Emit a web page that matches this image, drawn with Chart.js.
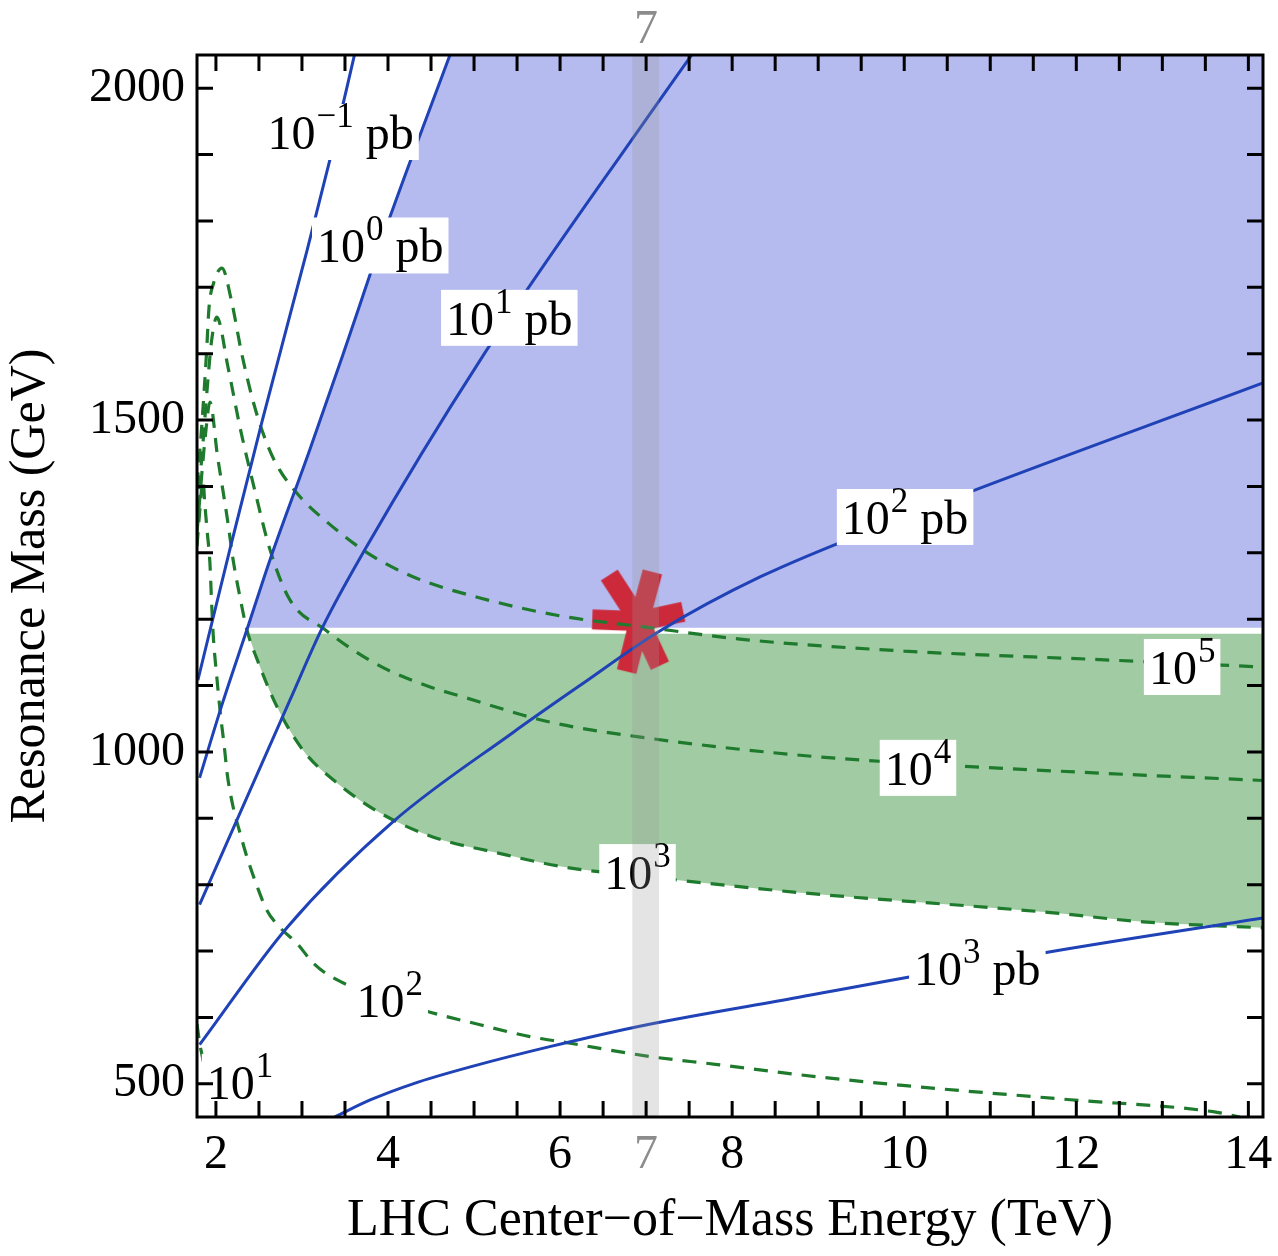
<!DOCTYPE html>
<html>
<head>
<meta charset="utf-8">
<title>Resonance mass reach vs LHC energy</title>
<script src="https://cdn.jsdelivr.net/npm/chart.js@4.4.1/dist/chart.umd.min.js"></script>
<style>
  html, body { margin: 0; padding: 0; background: #fff; }
  #reach { display: block; }
</style>
</head>
<body>
<canvas id="reach" width="1278" height="1256"></canvas>
<script>
/* ─────────────────────────────────────────────
   Resonance mass reach vs. LHC centre-of-mass energy
   Blue: cross-section contours (pb), green dashed: event-count contours
───────────────────────────────────────────── */

// ── Axis ticks ──────────────────────────────
const X_TICKS   = [2, 4, 6, 7, 8, 10, 12, 14];
const TOP_TICKS = [7];
const Y_TICKS   = [500, 1000, 1500, 2000];

// ── Cross-section contours: energy (TeV) / mass (GeV) ──
const XS_01_E   = [1.79, 2.16, 2.54, 3.06, 3.33, 3.61];
const XS_01_M   = [1108, 1304, 1500, 1756, 1895, 2050];
const XS_1_E    = [1.81, 2.08, 2.36, 2.63, 3.09, 3.48, 4.02, 4.72];
const XS_1_M    = [961, 1075, 1184, 1290, 1455, 1600, 1805, 2050];
const XS_10_E   = [1.81, 2.86, 3.24, 3.71, 5.07, 7.01, 7.53];
const XS_10_M   = [770, 1078, 1188, 1300, 1590, 1955, 2050];
const XS_100_E  = [1.81, 2.83, 4.06, 5.45, 6.23, 7.13, 8.33, 10.01, 14.17];
const XS_100_M  = [559, 736, 895, 1029, 1100, 1180, 1264, 1354, 1556];
const XS_1000_E = [3.38, 3.80, 4.29, 5.00, 5.88, 7.01, 8.76, 11.70, 14.17];
const XS_1000_M = [450, 476, 500, 527, 556, 589, 630, 699, 750];

// ── Event-count contours: energy (TeV) / mass (GeV) ──
const EV_1E1_E = [1.78, 1.81, 1.85, 1.88, 1.93];
const EV_1E1_M = [590, 562, 535, 505, 450];
const EV_1E2_E = [1.78, 1.81, 1.85, 1.87, 1.90, 1.93, 1.95, 1.97, 2.01, 2.05, 2.10, 2.13, 2.20, 2.28,
                  2.36, 2.48, 2.59, 2.74, 2.94, 3.13, 3.36, 4.41, 5.07, 5.65, 6.03, 7.05, 7.83, 8.76,
                  9.95, 11.93, 13.59, 13.90];
const EV_1E2_M = [1310, 1360, 1410, 1375, 1330, 1285, 1224, 1173, 1113, 1060, 1005, 968, 917, 878,
                  842, 797, 762, 736, 712, 682, 660, 611, 589, 571, 563, 541, 529, 514,
                  498, 476, 458, 450];
const EV_1E3_E = [1.78, 1.83, 1.88, 1.93, 2.02, 2.08, 2.14, 2.20, 2.28, 2.36, 2.48, 2.71, 3.01, 3.41,
                  3.91, 4.52, 5.27, 6.03, 7.01, 8.79, 11.70, 12.78, 14.17];
const EV_1E3_M = [1330, 1410, 1480, 1527, 1444, 1395, 1345, 1289, 1233, 1184, 1139, 1068, 1003, 953,
                  908, 872, 848, 827, 812, 788, 758, 744, 735];
const EV_1E4_E = [1.78, 1.84, 1.90, 1.95, 2.01, 2.14, 2.28, 2.45, 2.63, 2.86, 3.27, 3.59, 3.99, 4.49,
                  4.87, 5.88, 7.01, 8.79, 10.20, 12.28, 14.17];
const EV_1E4_M = [1360, 1450, 1550, 1620, 1655, 1580, 1489, 1395, 1304, 1229, 1184, 1154, 1124, 1098,
                  1083, 1045, 1021, 995, 982, 968, 957];
const EV_1E5_E = [1.78, 1.84, 1.89, 1.92, 1.97, 2.07, 2.18, 2.30, 2.45, 2.61, 2.74, 2.98, 3.24, 3.76,
                  4.29, 5.07, 6.00, 7.00, 8.09, 10.00, 12.28, 14.17];
const EV_1E5_M = [1400, 1500, 1600, 1670, 1705, 1729, 1680, 1600, 1520, 1459, 1425, 1384, 1352, 1300,
                  1264, 1232, 1205, 1188, 1170, 1152, 1139, 1128];

// ── Regions, 7 TeV band and benchmark point ──
const BLUE_FLOOR  = 1187;   // lower edge of the blue region (GeV)
const GREEN_ROOF  = 1178;   // upper edge of the green region (GeV)
const BAND_E      = [6.84, 7.15];
const STAR_E      = 6.92;
const STAR_M      = 1197;

// ── Axis ranges ─────────────────────────────
const E_MIN = 1.78, E_MAX = 14.17;
const M_MIN = 450,  M_MAX = 2050;

// ── Styling ─────────────────────────────────
const FONT      = 'Liberation Serif';
const LINE_BLUE = '#1f42b6';
const DASH_GRN  = '#1e7a2c';
const FILL_BLUE = 'rgb(181,186,239)';
const FILL_GRN  = 'rgb(161,204,163)';
const BAND_GREY = 'rgba(150,150,150,0.26)';
const GREY_TXT  = '#8c8c8c';
const TICK_LEN  = 16;

const pts = (es, ms) => es.map((e, i) => ({ x: e, y: ms[i] }));

// ── Contour labels (anchored in data coordinates) ──
const LABELS = [
  { e: 3.45,  m: 1934, base: '10', sup: '\u22121', unit: 'pb' },
  { e: 3.91,  m: 1763, base: '10', sup: '0',       unit: 'pb' },
  { e: 5.41,  m: 1654, base: '10', sup: '1',       unit: 'pb' },
  { e: 10.01, m: 1354, base: '10', sup: '2',       unit: 'pb' },
  { e: 10.85, m: 675,  base: '10', sup: '3',       unit: 'pb' },
  { e: 13.23, m: 1128, base: '10', sup: '5' },
  { e: 10.16, m: 976,  base: '10', sup: '4' },
  { e: 6.90,  m: 819,  base: '10', sup: '3' },
  { e: 4.02,  m: 627,  base: '10', sup: '2' },
  { e: 2.28,  m: 503,  base: '10', sup: '1' }
];

// ── Asterisk marker drawn once into an offscreen canvas ──
function makeStar() {
  const c = document.createElement('canvas');
  c.width = 130; c.height = 130;
  const g = c.getContext('2d');
  g.translate(65, 65);
  g.strokeStyle = '#cc2a3b';
  g.lineWidth = 20;
  g.lineCap = 'butt';
  // hand-drawn look: six slightly uneven arms
  [[-123, 55], [-75, 51], [-12, 45], [182, 47], [104, 52], [65, 49]].forEach(([deg, len]) => {
    const r = deg * Math.PI / 180;
    g.beginPath();
    g.moveTo(0, 0);
    g.lineTo(Math.cos(r) * len, Math.sin(r) * len);
    g.stroke();
  });
  return c;
}

function blueLine(es, ms) {
  return { data: pts(es, ms), showLine: true, borderColor: LINE_BLUE, borderWidth: 3,
           pointRadius: 0, cubicInterpolationMode: 'monotone', clip: 0, order: 1, fill: false };
}

function greenDash(es, ms) {
  return { data: pts(es, ms), showLine: true, borderColor: DASH_GRN, borderWidth: 3.2,
           borderDash: [14, 10], pointRadius: 0, cubicInterpolationMode: 'monotone',
           clip: 0, order: 2, fill: false };
}

// ── Fill regions built from the contour arrays ──
const bluePts = pts(XS_1_E, XS_1_M).filter(p => p.y >= BLUE_FLOOR - 4);
bluePts[0] = { x: bluePts[0].x, y: BLUE_FLOOR };
{
  // carry the 10^0 pb edge straight on past the top so the fill hugs the line
  const [p, q] = bluePts.slice(-2);
  const slope = (q.y - p.y) / (q.x - p.x);
  bluePts.push({ x: q.x + 0.3, y: q.y + slope * 0.3 });
  bluePts.push({ x: E_MAX, y: M_MAX + 400 });
}

const greenPts = pts(EV_1E3_E, EV_1E3_M).filter(p => p.y <= GREEN_ROOF + 7 && p.x > 2);

const datasets = [
  { data: bluePts, showLine: true, borderColor: 'transparent', backgroundColor: FILL_BLUE,
    fill: { value: BLUE_FLOOR }, pointRadius: 0, cubicInterpolationMode: 'monotone',
    clip: 0, order: 10 },
  { data: greenPts, showLine: true, borderColor: 'transparent', backgroundColor: FILL_GRN,
    fill: { value: GREEN_ROOF }, pointRadius: 0, cubicInterpolationMode: 'monotone',
    clip: 0, order: 9 },
  { data: [{ x: STAR_E, y: STAR_M }], pointStyle: makeStar(), pointRadius: 40,
    showLine: false, clip: 0, order: 5 },
  blueLine(XS_01_E, XS_01_M),
  blueLine(XS_1_E, XS_1_M),
  blueLine(XS_10_E, XS_10_M),
  blueLine(XS_100_E, XS_100_M),
  blueLine(XS_1000_E, XS_1000_M),
  greenDash(EV_1E1_E, EV_1E1_M),
  greenDash(EV_1E2_E, EV_1E2_M),
  greenDash(EV_1E3_E, EV_1E3_M),
  greenDash(EV_1E4_E, EV_1E4_M),
  greenDash(EV_1E5_E, EV_1E5_M)
];

// ── Contour label with white box and superscript ──
function drawLabel(ctx, cx, cy, lab) {
  const big = `48px "${FONT}"`, small = `35px "${FONT}"`;
  ctx.font = big;   const wBase = ctx.measureText(lab.base).width;
  ctx.font = small; const wSup  = ctx.measureText(lab.sup).width;
  ctx.font = big;   const wUnit = lab.unit ? ctx.measureText(' ' + lab.unit).width : 0;
  const w = wBase + 1 + wSup + wUnit;
  const left = cx - w / 2;
  const baseY = cy + 17;

  ctx.fillStyle = '#fff';
  ctx.fillRect(left - 5, cy - 28, w + 10, 56);

  ctx.fillStyle = '#000';
  ctx.textAlign = 'left';
  ctx.textBaseline = 'alphabetic';
  ctx.font = big;   ctx.fillText(lab.base, left, baseY);
  ctx.font = small; ctx.fillText(lab.sup, left + wBase + 1, baseY - 22);
  if (lab.unit) { ctx.font = big; ctx.fillText(' ' + lab.unit, left + wBase + 1 + wSup, baseY); }
}

// ── Labels, 7 TeV band, frame and inward ticks ──
const framePlugin = {
  id: 'frame',
  afterDatasetsDraw(chart) {
    const { ctx, chartArea: a, scales: { x, y } } = chart;
    ctx.save();

    LABELS.forEach(lab => drawLabel(ctx, x.getPixelForValue(lab.e), y.getPixelForValue(lab.m), lab));

    // translucent band at 7 TeV, over everything inside the frame
    const b0 = x.getPixelForValue(BAND_E[0]), b1 = x.getPixelForValue(BAND_E[1]);
    ctx.fillStyle = BAND_GREY;
    ctx.fillRect(b0, a.top, b1 - b0, a.bottom - a.top);

    ctx.strokeStyle = '#000';
    ctx.lineWidth = 3;
    ctx.strokeRect(a.left, a.top, a.right - a.left, a.bottom - a.top);

    ctx.beginPath();
    for (let v = 2; v <= 14; v += 0.5) {
      const px = x.getPixelForValue(v);
      ctx.moveTo(px, a.bottom); ctx.lineTo(px, a.bottom - TICK_LEN);
      ctx.moveTo(px, a.top);    ctx.lineTo(px, a.top + TICK_LEN);
    }
    for (let v = 500; v <= 2000; v += 100) {
      const py = y.getPixelForValue(v);
      ctx.moveTo(a.left, py);  ctx.lineTo(a.left + TICK_LEN, py);
      ctx.moveTo(a.right, py); ctx.lineTo(a.right - TICK_LEN, py);
    }
    ctx.stroke();
    ctx.restore();
  }
};

const tickFont = { family: FONT, size: 48 };
const tickColor = c => (c.tick && c.tick.value === 7 ? GREY_TXT : '#000');
const noGrid = { display: false, drawTicks: false };

new Chart(document.getElementById('reach'), {
  type: 'scatter',
  data: { datasets },
  options: {
    responsive: false,
    animation: false,
    layout: { autoPadding: false, padding: { top: 0, right: 15, bottom: 0, left: 0 } },
    plugins: {
      legend: { display: false },
      tooltip: { enabled: false },
      filler: { drawTime: 'beforeDatasetsDraw' }
    },
    scales: {
      x: {
        type: 'linear', min: E_MIN, max: E_MAX,
        grid: noGrid, border: { display: false },
        afterBuildTicks: s => { s.ticks = X_TICKS.map(v => ({ value: v })); },
        afterFit: s => { s.height = 139; s.paddingLeft = 0; s.paddingRight = 0; },
        ticks: { font: tickFont, color: tickColor, padding: 10, maxRotation: 0, autoSkip: false,
                 callback: v => String(v) },
        title: { display: true, text: 'LHC Center\u2212of\u2212Mass Energy (TeV)',
                 font: { family: FONT, size: 52 }, color: '#000', padding: { top: 0, bottom: 3 } }
      },
      x2: {
        type: 'linear', axis: 'x', position: 'top', min: E_MIN, max: E_MAX,
        grid: noGrid, border: { display: false },
        afterBuildTicks: s => { s.ticks = TOP_TICKS.map(v => ({ value: v })); },
        afterFit: s => { s.height = 55; s.paddingLeft = 0; s.paddingRight = 0; },
        ticks: { font: tickFont, color: GREY_TXT, padding: -4, maxRotation: 0, autoSkip: false,
                 callback: v => String(v) }
      },
      y: {
        type: 'linear', min: M_MIN, max: M_MAX,
        grid: noGrid, border: { display: false },
        afterBuildTicks: s => { s.ticks = Y_TICKS.map(v => ({ value: v })); },
        afterFit: s => { s.width = 197; s.paddingTop = 0; s.paddingBottom = 0; },
        ticks: { font: tickFont, color: '#000', padding: 12, callback: v => String(v) },
        title: { display: true, text: 'Resonance Mass (GeV)',
                 font: { family: FONT, size: 50 }, color: '#000', padding: { top: 1, bottom: 0 } }
      }
    }
  },
  plugins: [framePlugin]
});
</script>
</body>
</html>
